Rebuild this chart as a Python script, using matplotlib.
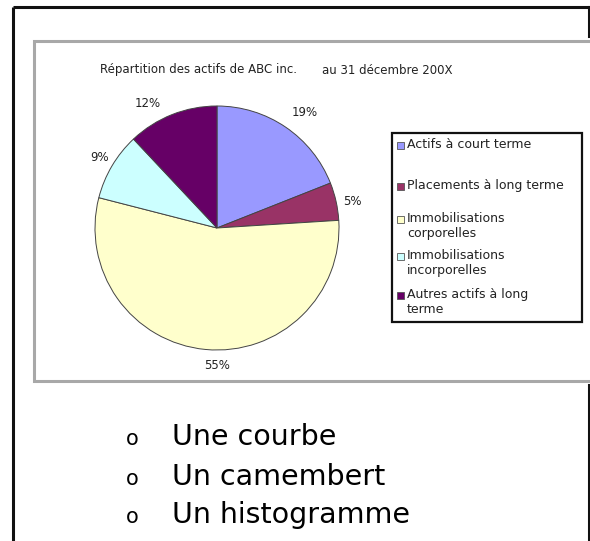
import numpy as np
import matplotlib
matplotlib.use("Agg")
from matplotlib import pyplot as plt
from matplotlib.patches import Rectangle

#
# Data
#
categories = [
    "Actifs à court terme",
    "Placements à long terme",
    "Immobilisations\ncorporelles",
    "Immobilisations\nincorporelles",
    "Autres actifs à long\nterme",
]
shares = [19, 5, 55, 9, 12]
colors = ["#9999FF", "#993366", "#FFFFCC", "#CCFFFF", "#660066"]
title_left = "Répartition des actifs de ABC inc."
title_right = "au 31 décembre 200X"
bullets = ["Une courbe", "Un camembert", "Un histogramme"]

# Layout (pixels, top-left origin)
W, H = 590, 541
PIE_CX, PIE_CY, PIE_R = 217, 228, 122
# label nudges: (degrees added to wedge middle, radial distance)
label_nudge = [(-3.2, 1.19), (-1.7, 1.13), (5.4, 1.13), (-0.4, 1.12), (7.4, 1.17)]
legend_rows = [145, 186, 219, 256, 295]
bullet_rows = [437, 477, 515]

CHART_FONT = "DejaVu Sans"
TEXT_COLOR = "#222222"

fig = plt.figure(figsize=(W / 100, H / 100), dpi=100)

# Background axes in pixel coordinates
bg = fig.add_axes([0, 0, 1, 1])
bg.set_xlim(0, W)
bg.set_ylim(H, 0)
bg.axis("off")

# Slide border (black)
bg.plot([13, 13], [H, 7], color="#111111", lw=2.2, solid_capstyle="butt")
bg.plot([13, W], [7, 7], color="#111111", lw=2.2, solid_capstyle="butt")
bg.plot([589, 589], [7, 36], color="#111111", lw=2.2)
bg.plot([589, 589], [385, H], color="#111111", lw=2.2)

# Chart frame (grey)
bg.add_patch(Rectangle((34, 41), W, 340, facecolor="white",
                       edgecolor="#a8a8a8", lw=2.2))

# Title
bg.text(100, 70, title_left, ha="left", va="center", fontsize=8.5,
        family=CHART_FONT, color=TEXT_COLOR)
bg.text(322, 70, title_right, ha="left", va="center", fontsize=8.5,
        family=CHART_FONT, color=TEXT_COLOR)

# Legend box
bg.add_patch(Rectangle((392, 133), 190, 189, facecolor="white",
                       edgecolor="#111111", lw=1.6))
for label, color, y in zip(categories, colors, legend_rows):
    bg.add_patch(Rectangle((397, y - 3.5), 7, 7, facecolor=color,
                           edgecolor="#555555", lw=0.6))
    bg.text(407, y - 7, label, ha="left", va="top", fontsize=9,
            family=CHART_FONT, color=TEXT_COLOR, linespacing=1.2)

# Bullet list
for text, y in zip(bullets, bullet_rows):
    bg.text(126, y + 2, "o", ha="left", va="center", fontsize=15,
            family="DejaVu Sans", color="black")
    bg.text(172, y, text, ha="left", va="center", fontsize=20.5,
            family="DejaVu Sans", color="black")

# Pie axes
ax = fig.add_axes([(PIE_CX - PIE_R) / W, 1 - (PIE_CY + PIE_R) / H,
                   2 * PIE_R / W, 2 * PIE_R / H])
wedges, _ = ax.pie(shares, colors=colors, startangle=90, counterclock=False,
                   wedgeprops=dict(edgecolor="#444444", linewidth=0.7))
ax.set_xlim(-1, 1)
ax.set_ylim(-1, 1)
ax.set_aspect("auto")

for w, share, (dang, dist) in zip(wedges, shares, label_nudge):
    mid = np.deg2rad((w.theta1 + w.theta2) / 2 + dang)
    ax.text(dist * np.cos(mid), dist * np.sin(mid), f"{share}%",
            ha="center", va="center", fontsize=8.5, family=CHART_FONT,
            color=TEXT_COLOR, clip_on=False)

fig.savefig("out.png", dpi=100)
